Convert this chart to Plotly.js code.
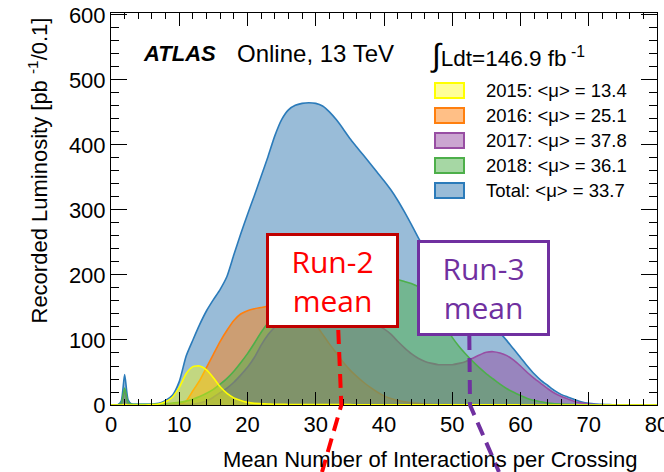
<!DOCTYPE html>
<html><head><meta charset="utf-8">
<script src="https://cdn.plot.ly/plotly-3.0.1.min.js"></script>
<style>html,body{margin:0;padding:0;background:#fff}#chart{width:664px;height:472px}</style>
</head><body><div id="chart"></div>
<script>
// Mean number of interactions per crossing (bin centres)
const mu = [0, 1, 1.5, 2, 2.5,
  3, 4, 5, 6, 7, 8, 9,
  10, 11, 12, 13, 14, 15, 16, 17, 18, 19,
  20, 21, 22, 23, 24, 25, 26, 27, 28, 29,
  30, 31, 32, 33, 34, 35, 36, 37, 38, 39,
  40, 41, 42, 43, 44, 45, 46, 47, 48, 49,
  50, 51, 52, 53, 54, 55, 56, 57, 58, 59,
  60, 61, 62, 63, 64, 65, 66, 67, 68, 69,
  70, 71, 72, 73, 74, 75, 76, 78, 80];

const lumiTotal = [0, 0.5, 6, 47, 8,
  1.5, 1, 1, 1.5, 2.5, 7, 15,
  36, 75, 100, 124, 145, 162, 178, 198, 231, 263,
  293, 322, 352, 382, 414, 439, 454, 461, 464, 465,
  464, 460, 451, 439, 425, 410, 397, 384, 371, 358,
  345, 331, 315, 297, 278, 258, 240, 222, 205, 188,
  172, 159, 148, 140, 134, 128, 122, 111, 99, 86,
  73, 60, 48, 38, 30, 22, 16, 12, 8, 4.5,
  2.5, 1.5, 1, 0.6, 0.4, 0.3, 0.2, 0.1, 0];

const lumi2015 = [0, 0, 0, 1, 0,
  0, 0, 0, 0.5, 1.5, 5, 12,
  27, 48, 59, 60, 54, 42, 28, 18, 11, 7,
  4, 2.5, 2, 1.5, 1, 1, 0.8, 0.8, 0.8, 0.8,
  0.8, 0.6, 0.5, 0.5, 0.5, 0.5, 0.4, 0.4, 0.3, 0.3,
  0.3, 0.2, 0.2, 0.2, 0.2, 0.2, 0.2, 0.2, 0.2, 0.2,
  0.2, 0.2, 0.2, 0.2, 0.2, 0.2, 0.2, 0.2, 0.2, 0.2,
  0.1, 0.1, 0.1, 0.1, 0, 0, 0, 0, 0, 0,
  0, 0, 0, 0, 0, 0, 0, 0, 0];

const lumi2016 = [0, 0, 0.5, 0.5, 0.5,
  0, 0, 0, 0, 0, 0.2, 0.5,
  1, 6, 22, 38, 58, 78, 98, 115, 130, 140,
  145, 148, 150, 152, 155, 157, 156, 152, 145, 136,
  124, 109, 94, 80, 66, 54, 44, 35, 27, 20,
  14, 10, 7, 5, 3.5, 2.5, 1.5, 1, 0.5, 0.5,
  0.4, 0.3, 0.2, 0.2, 0.1, 0.1, 0, 0, 0, 0,
  0, 0, 0, 0, 0, 0, 0, 0, 0, 0,
  0, 0, 0, 0, 0, 0, 0, 0, 0];

const lumi2017 = [0, 0, 2, 21, 3,
  0.5, 0.2, 0.2, 0.2, 0.3, 0.3, 0.4,
  0.5, 0.7, 1, 3, 6, 12, 19, 26, 35, 46,
  58, 73, 92, 108, 120, 130, 138, 144, 148, 151,
  153, 154, 154, 153, 151, 148, 143, 137, 130, 123,
  117, 109, 98, 88, 79, 72, 67, 64, 62, 62,
  62, 64, 67, 72, 77, 81, 82, 80, 76, 69,
  60, 50, 41, 33, 25, 18, 13, 9, 5, 3,
  1.5, 0.8, 0.3, 0.1, 0, 0, 0, 0, 0];

const lumi2018 = [0, 0.5, 3, 26, 4,
  1.5, 1, 1, 1, 1.5, 2, 3,
  4, 6, 9, 13, 18, 24, 32, 41, 52, 65,
  79, 95, 112, 126, 138, 149, 159, 167, 174, 180,
  185, 189, 193, 196, 198, 200, 201, 201, 200, 199,
  197, 195, 193, 190, 187, 182, 172, 158, 141, 121,
  104, 90, 78, 67, 57, 48, 40, 32, 25, 19.5,
  14.5, 10, 7, 5, 3, 2, 1.5, 1, 0.6, 0.3,
  0.2, 0.1, 0, 0, 0, 0, 0, 0, 0];

const legendYears = ['2015', '2016', '2017', '2018', 'Total'];
const legendMeans = ['13.4', '25.1', '37.8', '36.1', '33.7'];
const xTickVals = [0, 10, 20, 30, 40, 50, 60, 70, 80];
const yTickVals = [0, 100, 200, 300, 400, 500, 600];
const RUN2_MEAN = 33.7;
const RUN3_MEAN = 52.5;

// styles
const lineCol = {Total: '#2b7bba', '2015': '#ffff00', '2016': '#ff7f0e', '2017': '#984ea3', '2018': '#4daf4a'};
const fillCol = {Total: 'rgb(153,188,216)', '2015': 'rgba(255,255,0,0.4)', '2016': 'rgba(255,127,14,0.5)',
                 '2017': 'rgba(152,78,163,0.5)', '2018': 'rgba(77,175,74,0.5)'};
const seriesData = {Total: lumiTotal, '2015': lumi2015, '2016': lumi2016, '2017': lumi2017, '2018': lumi2018};

// layout geometry (pixels)
const W = 664, H = 472, ML = 111, MR = 7, MT = 13, MB = 67;
const PW = W - ML - MR, PH = H - MT - MB;
const px = x => (x - ML) / PW;
const py = y => (H - MB - y) / PH;

const drawOrder = ['Total', '2016', '2017', '2018', '2015'];
const traces = drawOrder.map(k => ({
  type: 'scatter', mode: 'lines', x: mu, y: seriesData[k], name: k,
  line: {color: lineCol[k], width: 1.6, shape: 'spline', smoothing: 0.6},
  fill: 'tozeroy', fillcolor: fillCol[k], showlegend: false, hoverinfo: 'skip', cliponaxis: true
}));

const FONT = 'Liberation Sans, Arial, Helvetica, sans-serif';
const BOXFONT = 'Open Sans, Noto Sans, sans-serif';
const annotations = [];
const shapes = [];

// legend (drawn by hand, ROOT style)
legendYears.forEach((yr, i) => {
  const cy = 90.5 + 25 * i;
  shapes.push({type: 'rect', xref: 'paper', yref: 'paper', x0: px(435), x1: px(464), y0: py(cy + 7.5), y1: py(cy - 7.5),
    fillcolor: fillCol[yr], line: {color: lineCol[yr], width: 2}, layer: 'above'});
  annotations.push({xref: 'paper', yref: 'paper', x: px(484), y: py(cy), xanchor: 'left', yanchor: 'middle', showarrow: false,
    text: yr + ': &lt;μ&gt; = ' + legendMeans[i], font: {family: FONT, size: 18.5, color: '#000'}});
});

annotations.push(
  {xref: 'paper', yref: 'paper', x: px(141), y: py(54), xanchor: 'left', yanchor: 'middle', showarrow: false,
   text: '<b><i>ATLAS</i></b>', font: {family: FONT, size: 22, color: '#000'}},
  {xref: 'paper', yref: 'paper', x: px(235), y: py(54), xanchor: 'left', yanchor: 'middle', showarrow: false,
   text: 'Online, 13 TeV', font: {family: FONT, size: 24, color: '#000'}},
  {xref: 'paper', yref: 'paper', x: px(428), y: py(55), xanchor: 'left', yanchor: 'middle', showarrow: false,
   text: '<span style="font-size:32px">∫</span>Ldt=146.9 fb<sup> -1</sup>', font: {family: FONT, size: 22.5, color: '#000'}},
  {xref: 'paper', yref: 'paper', x: px(640), y: py(459), xanchor: 'right', yanchor: 'middle', showarrow: false,
   text: 'Mean Number of Interactions per Crossing', font: {family: FONT, size: 22, color: '#000'}},
  {xref: 'paper', yref: 'paper', x: px(37), y: py(170.5), xanchor: 'center', yanchor: 'middle', showarrow: false, textangle: -90,
   text: 'Recorded Luminosity [pb <sup>-1</sup>/0.1]', font: {family: FONT, size: 22, color: '#000'}},
  {xref: 'paper', yref: 'paper', x: px(332.5), y: py(280.5), xanchor: 'center', yanchor: 'middle', showarrow: false,
   text: 'Run-2<br>mean', font: {family: BOXFONT, size: 30, color: '#ff0000'},
   bgcolor: '#ffffff', bordercolor: '#c00000', borderwidth: 3, borderpad: 0, width: 127, height: 89, align: 'center'},
  {xref: 'paper', yref: 'paper', x: px(483.5), y: py(288), xanchor: 'center', yanchor: 'middle', showarrow: false,
   text: 'Run-3<br>mean', font: {family: BOXFONT, size: 30, color: '#7030a0'},
   bgcolor: '#ffffff', bordercolor: '#7030a0', borderwidth: 3, borderpad: 0, width: 127, height: 90, align: 'center'}
);

// dashed mean markers
shapes.push(
  {type: 'path', xref: 'x', yref: 'paper', layer: 'above',
   path: `M${RUN2_MEAN - 0.4},${py(330)} L${RUN2_MEAN + 0.05},0 L${px(322) * 80},${py(472)}`,
   line: {color: '#ff0000', width: 4, dash: '14px,8px'}},
  {type: 'path', xref: 'x', yref: 'paper', layer: 'above',
   path: `M${RUN3_MEAN},${py(336)} L${RUN3_MEAN + 0.1},0 L${px(499) * 80},${py(472)}`,
   line: {color: '#7030a0', width: 4, dash: '14px,8px'}}
);

const axisCommon = {
  showgrid: false, zeroline: false, showline: true, linecolor: '#000', linewidth: 1,
  mirror: 'ticks', ticks: 'inside', tickcolor: '#000', tickwidth: 1, ticklabeloverflow: 'allow',
  tickfont: {family: FONT, size: 22, color: '#000'}
};

const layout = {
  width: W, height: H, margin: {l: ML, r: MR, t: MT, b: MB, pad: 0},
  paper_bgcolor: '#fff', plot_bgcolor: '#fff', showlegend: false,
  xaxis: Object.assign({}, axisCommon, {range: [0, 80], tickmode: 'array', tickvals: xTickVals, ticktext: xTickVals.map(String),
    ticklen: 13, minor: {dtick: 2, tick0: 0, ticklen: 6, ticks: 'inside', tickcolor: '#000', tickwidth: 1}}),
  yaxis: Object.assign({}, axisCommon, {range: [0, 603], tickmode: 'array', tickvals: yTickVals, ticktext: yTickVals.map(String),
    ticklen: 16, minor: {dtick: 20, tick0: 0, ticklen: 8, ticks: 'inside', tickcolor: '#000', tickwidth: 1}}),
  annotations: annotations, shapes: shapes
};

Plotly.newPlot('chart', traces, layout, {displayModeBar: false, staticPlot: true});
</script>
</body></html>
